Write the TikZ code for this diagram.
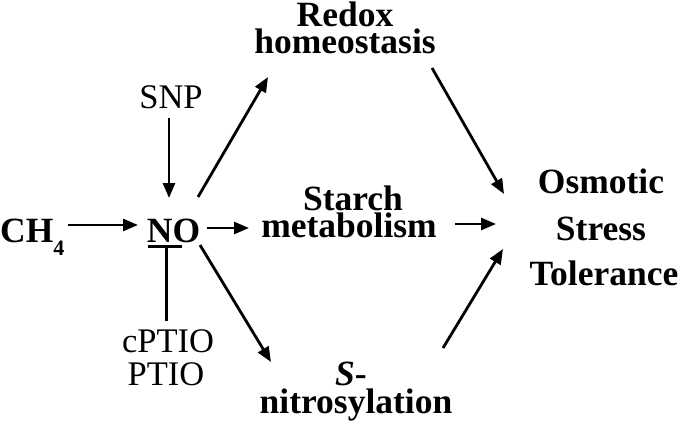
\documentclass[tikz,border=0pt]{standalone}
\usepackage{fontspec}
\setmainfont{Liberation Serif}
\usetikzlibrary{arrows.meta}
\begin{document}
\begin{tikzpicture}[x=1pt,y=-1pt,
  lbl/.style={font=\fontsize{35.5}{40}\selectfont\bfseries, inner sep=0pt, anchor=base},
  plain/.style={font=\fontsize{34.5}{40}\selectfont, inner sep=0pt, anchor=base},
  arr/.style={line width=2.8pt, -{Triangle[length=15pt,width=12pt]}},
  inh/.style={line width=3pt}
]
\useasboundingbox (0,0) rectangle (685,428);

% text nodes
\node[lbl] (redox) at (345,27) {Redox};
\node[lbl] (homeo) at (345,53) {homeostasis};
\node[lbl] (starch) at (353,210) {Starch};
\node[lbl] (metab) at (349,237) {metabolism};
\node[lbl] (snitroA) at (351,385) {\textit{S}-};
\node[lbl] (snitroB) at (356,413) {nitrosylation};
\node[lbl] (osm) at (601,193) {Osmotic};
\node[lbl] (stress) at (601,240) {Stress};
\node[lbl] (tol) at (604,285) {Tolerance};
\node[lbl, anchor=base west] (ch4) at (0,242) {CH\raisebox{-13pt}{\fontsize{22}{22}\selectfont 4}};
\node[lbl] (no) at (173.5,242) {NO};
\node[plain] (snp) at (171,108) {SNP};
\node[plain] (cptio) at (168,352) {cPTIO};
\node[plain] (ptio) at (166,385) {PTIO};

% connector end points
\coordinate (ch4out) at (68,225);
\coordinate (noinL) at (138,225);
\coordinate (snpout) at (169,118);
\coordinate (noinT) at (169,198);
\coordinate (noNE) at (198,197);
\coordinate (redoxin) at (268,77);
\coordinate (noE) at (207,228);
\coordinate (starchin) at (249,228);
\coordinate (noSE) at (200,245);
\coordinate (snitroin) at (271,362);
\coordinate (redoxout) at (432,68);
\coordinate (osmA) at (504,194);
\coordinate (starchout) at (455,224);
\coordinate (osmB) at (496,224);
\coordinate (snitroout) at (443,348);
\coordinate (osmC) at (503,249);
\coordinate (barL) at (148,246);
\coordinate (barR) at (182,246);
\coordinate (barM) at (166,246);
\coordinate (cptioin) at (166,321);

% connectors
\draw[arr] (ch4out) -- (noinL);
\draw[arr] (snpout) -- (noinT);
\draw[arr] (noNE) -- (redoxin);
\draw[arr] (noE) -- (starchin);
\draw[arr] (noSE) -- (snitroin);
\draw[arr] (redoxout) -- (osmA);
\draw[arr] (starchout) -- (osmB);
\draw[arr] (snitroout) -- (osmC);
\draw[inh] (barL) -- (barR);
\draw[inh] (barM) -- (cptioin);
\end{tikzpicture}
\end{document}
